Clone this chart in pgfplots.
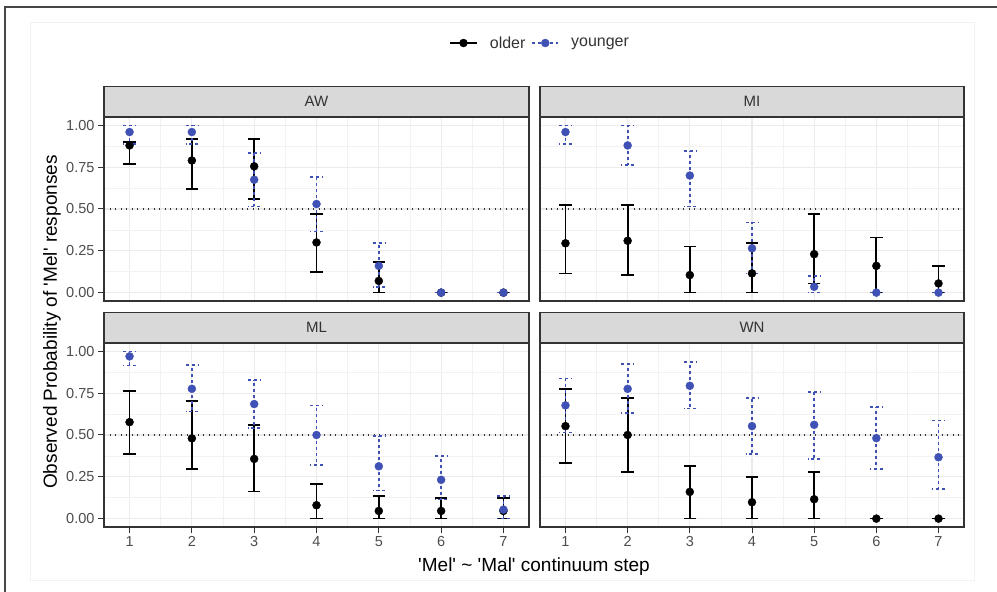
\documentclass[border=0pt]{standalone}
\usepackage{pgfplots}
\usepackage{pgfplotstable}
\pgfplotsset{compat=1.18}
\usepackage{fontspec}
\setmainfont{Liberation Sans}

\definecolor{gray20}{HTML}{333333}
\definecolor{gray30}{HTML}{4D4D4D}
\definecolor{grey92}{HTML}{EBEBEB}
\definecolor{grey95}{HTML}{F2F2F2}
\definecolor{grey85}{HTML}{D9D9D9}
\definecolor{ybl}{RGB}{63,81,181}

\newcommand\sq{\textquotesingle}

\pgfplotstableread{
x y lo hi
1 0.88 0.77 0.90
2 0.79 0.62 0.92
3 0.755 0.56 0.92
4 0.30 0.125 0.47
5 0.07 0.0 0.185
6 0 0 0
7 0 0 0
}\AWold
\pgfplotstableread{
x y lo hi
1 0.96 0.89 1.0
2 0.96 0.89 1.0
3 0.675 0.515 0.835
4 0.53 0.365 0.69
5 0.16 0.035 0.295
6 0 0 0
7 0 0 0
}\AWyoung
\pgfplotstableread{
x y lo hi
1 0.295 0.115 0.525
2 0.31 0.105 0.525
3 0.105 0 0.275
4 0.115 0 0.295
5 0.23 0.055 0.47
6 0.16 0 0.33
7 0.055 0 0.16
}\MIold
\pgfplotstableread{
x y lo hi
1 0.96 0.89 1.0
2 0.88 0.765 1.0
3 0.70 0.515 0.845
4 0.265 0.115 0.42
5 0.035 0 0.10
6 0 0 0
7 0 0 0
}\MIyoung
\pgfplotstableread{
x y lo hi
1 0.577 0.385 0.765
2 0.48 0.295 0.705
3 0.357 0.162 0.56
4 0.08 0 0.205
5 0.046 0 0.134
6 0.046 0 0.124
7 0.046 0 0.124
}\MLold
\pgfplotstableread{
x y lo hi
1 0.97 0.916 1.0
2 0.776 0.64 0.918
3 0.685 0.54 0.83
4 0.50 0.32 0.677
5 0.313 0.168 0.493
6 0.232 0.114 0.375
7 0.054 0 0.134
}\MLyoung
\pgfplotstableread{
x y lo hi
1 0.553 0.331 0.776
2 0.50 0.279 0.721
3 0.16 0 0.313
4 0.098 0 0.248
5 0.116 0 0.279
6 0 0 0
7 0 0 0
}\WNold
\pgfplotstableread{
x y lo hi
1 0.677 0.515 0.838
2 0.776 0.631 0.926
3 0.794 0.659 0.936
4 0.553 0.385 0.721
5 0.561 0.357 0.757
6 0.481 0.295 0.669
7 0.367 0.178 0.587
}\WNyoung

\pgfplotsset{
  panel/.style={
    scale only axis, height=184pt,
    xmin=0.59, xmax=7.41, ymin=-0.05, ymax=1.05,
    xtick={1,...,7}, ytick={0,0.25,0.5,0.75,1},
    minor xtick={1.5,2.5,...,6.5},
    minor ytick={0.125,0.375,0.625,0.875},
    grid=both,
    major grid style={draw=grey92, line width=1.1pt},
    minor grid style={draw=grey95, line width=0.7pt},
    axis line style={draw=gray20, line width=1.3pt},
    tick align=outside, major tick length=6pt, minor tick length=0pt,
    tick style={draw=gray20, line width=1pt},
    xtick pos=lower, ytick pos=left,
    xticklabels={}, yticklabels={},
    /pgf/number format/assume math mode=true,
    tick label style={font=\fontsize{14.5}{15}\selectfont, text=gray30},
    every axis title/.style={at={(0.5,1)}, anchor=south, draw=gray20, fill=grey85,
      line width=1.3pt, minimum height=30pt, inner sep=0pt,
      font=\fontsize{15}{15}\selectfont, text=gray20},
  },
  noxt/.style={xtick style={draw=none}},
  noyt/.style={ytick style={draw=none}},
  xlab/.style={xticklabels={1,2,3,4,5,6,7}},
  ylab/.style={yticklabels={0.00,0.25,0.50,0.75,1.00}},
  oldp/.style={only marks, mark=*, mark size=4pt, black,
    error bars/y dir=both, error bars/y explicit,
    error bars/error bar style={line width=1.7pt, black, solid},
    error bars/error mark options={rotate=90, black, line width=1.7pt, mark size=6.2pt, solid}},
  youngp/.style={only marks, mark=*, mark size=4pt, ybl,
    error bars/y dir=both, error bars/y explicit,
    error bars/error bar style={line width=1.7pt, ybl, dash pattern=on 3pt off 3pt},
    error bars/error mark options={rotate=90, ybl, line width=1.7pt, mark size=6.2pt, dash pattern=on 3pt off 3pt}},
}

\begin{document}
\begin{tikzpicture}
\useasboundingbox (0pt,0pt) rectangle (997pt,592pt);
\fill[white] (0pt,0pt) rectangle (997pt,592pt);
\draw[grey95, line width=0.8pt] (30pt,12pt) rectangle (974pt,570pt);
\draw[gray20!90, line width=1.5pt] (5pt,0pt) -- (5pt,585pt) -- (997pt,585pt);

% AW
\begin{axis}[panel, noxt, ylab, at={(104pt,291pt)}, anchor=south west, width=425pt,
  title={AW}, title style={minimum width=425pt},
  legend style={at={(1.026,1.402)}, anchor=center, draw=none, fill=none,
    legend columns=2, font=\fontsize{16}{16}\selectfont, text=gray20,
    /tikz/every odd column/.append style={column sep=10pt},
    /tikz/every even column/.append style={column sep=4pt}},
  legend cell align=left]
\addplot[forget plot, gray20, line width=1.1pt, dash pattern=on 1.3pt off 4.2pt] coordinates {(0.59,0.5) (7.41,0.5)};
\addplot[oldp, legend image code/.code={\draw[black, line width=1.7pt] (0pt,0pt) -- (27pt,0pt); \fill[black] (13.5pt,0pt) circle (4pt);}] table[x=x, y=y, y error plus expr=\thisrow{hi}-\thisrow{y}, y error minus expr=\thisrow{y}-\thisrow{lo}] {\AWold};
\addplot[youngp, legend image code/.code={\draw[ybl, line width=1.7pt, dash pattern=on 3pt off 3pt] (0pt,0pt) -- (26pt,0pt); \fill[ybl] (13pt,0pt) circle (4pt);}] table[x=x, y=y, y error plus expr=\thisrow{hi}-\thisrow{y}, y error minus expr=\thisrow{y}-\thisrow{lo}] {\AWyoung};
\legend{older,younger}
\end{axis}

% MI
\begin{axis}[panel, noxt, noyt, at={(540pt,291pt)}, anchor=south west, width=424pt,
  title={MI}, title style={minimum width=424pt}]
\addplot[forget plot, gray20, line width=1.1pt, dash pattern=on 1.3pt off 4.2pt] coordinates {(0.59,0.5) (7.41,0.5)};
\addplot[oldp] table[x=x, y=y, y error plus expr=\thisrow{hi}-\thisrow{y}, y error minus expr=\thisrow{y}-\thisrow{lo}] {\MIold};
\addplot[youngp] table[x=x, y=y, y error plus expr=\thisrow{hi}-\thisrow{y}, y error minus expr=\thisrow{y}-\thisrow{lo}] {\MIyoung};
\end{axis}

% ML
\begin{axis}[panel, xlab, ylab, at={(104pt,65pt)}, anchor=south west, width=425pt,
  title={ML}, title style={minimum width=425pt}]
\addplot[forget plot, gray20, line width=1.1pt, dash pattern=on 1.3pt off 4.2pt] coordinates {(0.59,0.5) (7.41,0.5)};
\addplot[oldp] table[x=x, y=y, y error plus expr=\thisrow{hi}-\thisrow{y}, y error minus expr=\thisrow{y}-\thisrow{lo}] {\MLold};
\addplot[youngp] table[x=x, y=y, y error plus expr=\thisrow{hi}-\thisrow{y}, y error minus expr=\thisrow{y}-\thisrow{lo}] {\MLyoung};
\end{axis}

% WN
\begin{axis}[panel, xlab, noyt, at={(540pt,65pt)}, anchor=south west, width=424pt,
  title={WN}, title style={minimum width=424pt}]
\addplot[forget plot, gray20, line width=1.1pt, dash pattern=on 1.3pt off 4.2pt] coordinates {(0.59,0.5) (7.41,0.5)};
\addplot[oldp] table[x=x, y=y, y error plus expr=\thisrow{hi}-\thisrow{y}, y error minus expr=\thisrow{y}-\thisrow{lo}] {\WNold};
\addplot[youngp] table[x=x, y=y, y error plus expr=\thisrow{hi}-\thisrow{y}, y error minus expr=\thisrow{y}-\thisrow{lo}] {\WNyoung};
\end{axis}

\node[font=\fontsize{19}{20}\selectfont, text=black] at (534pt,25pt)
  {\sq Mel\sq{} \textasciitilde{} \sq Mal\sq{} continuum step};
\node[rotate=90, font=\fontsize{19}{20}\selectfont, text=black] at (52pt,270pt)
  {Observed Probability of \sq Mel\sq{} responses};
\end{tikzpicture}
\end{document}
